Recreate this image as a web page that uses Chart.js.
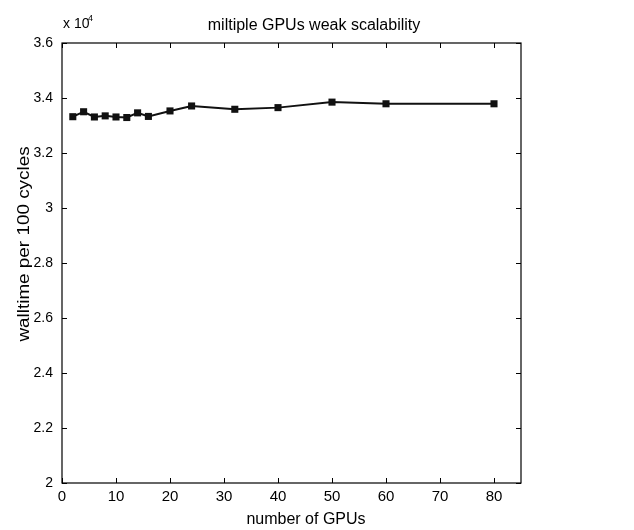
<!DOCTYPE html>
<html>
<head>
<meta charset="utf-8">
<script src="https://cdn.jsdelivr.net/npm/chart.js@4.4.0/dist/chart.umd.min.js"></script>
<style>
  html, body { margin: 0; padding: 0; background: #fff; }
  #wrap { width: 634px; height: 530px; }
</style>
</head>
<body>
<div id="wrap"><canvas id="myChart" width="634" height="530"></canvas></div>
<script>
const gpus = [2, 4, 6, 8, 10, 12, 14, 16, 20, 24, 32, 40, 50, 60, 80];
const walltime = [33320, 33500, 33310, 33350, 33310, 33290, 33460, 33330, 33530, 33710, 33590, 33650, 33850, 33790, 33790];
const xTicks = [0, 10, 20, 30, 40, 50, 60, 70, 80];
const yTicks = [20000, 22000, 24000, 26000, 28000, 30000, 32000, 34000, 36000];

const FONT = '"Liberation Sans", Arial, Helvetica, sans-serif';

// matlab style box with inward ticks + extra texts
const boxPlugin = {
  id: 'box',
  afterDraw(chart) {
    const c = chart.ctx, a = chart.chartArea;
    const xs = chart.scales.x, ys = chart.scales.y;
    c.save();
    c.strokeStyle = '#000';
    c.lineWidth = 1.2;
    c.strokeRect(a.left, a.top, a.right - a.left, a.bottom - a.top);
    c.beginPath();
    xTicks.forEach(v => {
      const p = Math.round(xs.getPixelForValue(v)) + 0.5;
      c.moveTo(p, a.bottom); c.lineTo(p, a.bottom - 5);
      c.moveTo(p, a.top); c.lineTo(p, a.top + 5);
    });
    yTicks.forEach(v => {
      const p = Math.round(ys.getPixelForValue(v)) + 0.5;
      c.moveTo(a.left, p); c.lineTo(a.left + 5, p);
      c.moveTo(a.right, p); c.lineTo(a.right - 5, p);
    });
    c.lineWidth = 1;
    c.stroke();

    c.fillStyle = '#000';
    c.textBaseline = 'alphabetic';
    c.textAlign = 'left';
    c.font = '14px ' + FONT;
    c.fillText('x 10', a.left + 1, a.top - 15);
    c.font = '9px ' + FONT;
    c.fillText('4', a.left + 26, a.top - 22);

    c.textAlign = 'center';
    c.font = '16px ' + FONT;
    c.fillText('miltiple GPUs weak scalability', 314, 30);
    c.fillText('number of GPUs', 306, 524);
    c.translate(29, 244);
    c.rotate(-Math.PI / 2);
    c.scale(1.18, 1);
    c.fillText('walltime per 100 cycles', 0, 0);
    c.restore();
  }
};

new Chart(document.getElementById('myChart'), {
  type: 'line',
  data: {
    datasets: [{
      data: gpus.map((g, i) => ({ x: g, y: walltime[i] })),
      borderColor: '#111',
      backgroundColor: '#111',
      borderWidth: 2,
      pointStyle: 'rect',
      pointRadius: 5,
      pointBorderWidth: 0,
      tension: 0
    }]
  },
  options: {
    responsive: false,
    animation: false,
    layout: { padding: { top: 43, right: 113, left: 0, bottom: 0 } },
    plugins: { legend: { display: false }, tooltip: { enabled: false } },
    scales: {
      x: {
        type: 'linear',
        min: 0, max: 85,
        afterFit: s => { s.height = 47; },
        afterBuildTicks: s => { s.ticks = xTicks.map(v => ({ value: v })); },
        grid: { display: false, drawTicks: false },
        border: { display: false },
        ticks: { color: '#000', font: { family: FONT, size: 15 }, padding: 5, maxRotation: 0 }
      },
      y: {
        min: 20000, max: 36000,
        afterFit: s => { s.width = 62; },
        afterBuildTicks: s => { s.ticks = yTicks.map(v => ({ value: v })); },
        grid: { display: false, drawTicks: false },
        border: { display: false },
        ticks: {
          color: '#000', font: { family: FONT, size: 14 }, padding: 9,
          callback: v => String(Math.round(v / 1000) / 10)
        }
      }
    }
  },
  plugins: [boxPlugin]
});
</script>
</body>
</html>
